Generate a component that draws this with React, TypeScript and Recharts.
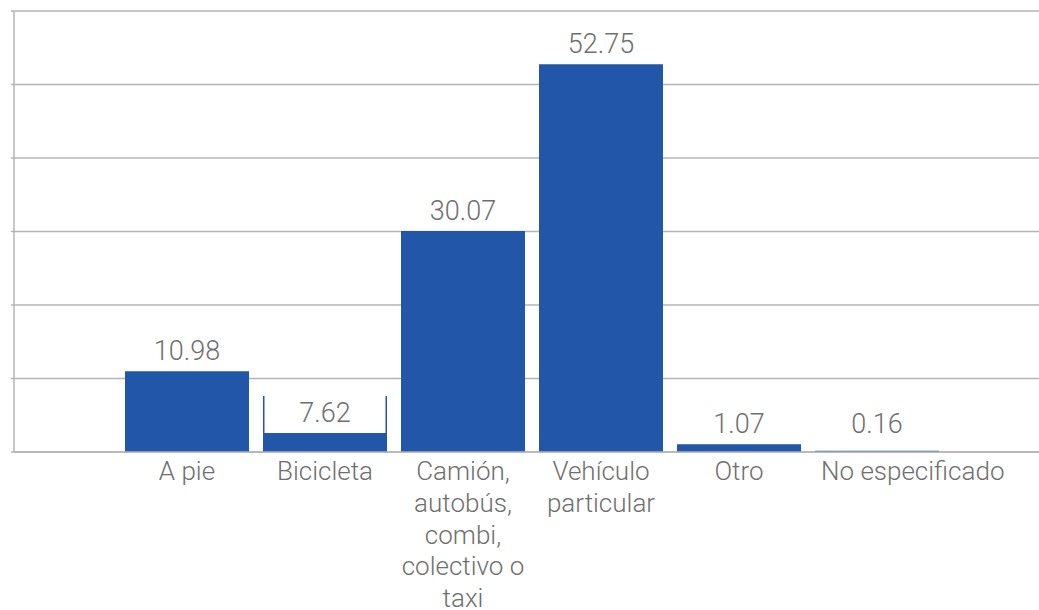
import React from 'react';
import { BarChart, Bar, XAxis, YAxis, CartesianGrid, LabelList } from 'recharts';

const CATEGORIES = [
    'A pie',
    'Bicicleta',
    'Camión,\nautobús,\ncombi,\ncolectivo o\ntaxi',
    'Vehículo\nparticular',
    'Otro',
    'No especificado',
];
const VALUES = [10.98, 7.62, 30.07, 52.75, 1.07, 0.16];
const Y_TICKS = [0, 10, 20, 30, 40, 50, 60];

// in the source the "7.62" label sits on a white box laid over the top of its bar
const BOXED_LABELS = ['Bicicleta'];

const data = CATEGORIES.map((name, i) => ({ name, value: VALUES[i] }));

const BAR_COLOR = '#2256a8';
const TEXT_COLOR = '#6f6f6f';
const GRID_COLOR = '#b4b4b4';
const FONT = 'Roboto, "Liberation Sans", sans-serif';
const PLOT_BOTTOM = 452;

const CategoryTick = ({ x, y, payload }: any) => {
    const lines = String(payload.value).split('\n');
    // long one-line labels run to the right of their bar instead of being centred
    const wide = lines.length === 1 && lines[0].length > 12;
    return (
        <text
            x={wide ? x - 56 : x}
            y={y}
            textAnchor={wide ? 'start' : 'middle'}
            fill={TEXT_COLOR}
            fontFamily={FONT}
            fontWeight={300}
            fontSize={26}
        >
            {lines.map((line, i) => (
                <tspan key={i} x={wide ? x - 56 : x} dy={i === 0 ? 28 : 31.8}>{line}</tspan>
            ))}
        </text>
    );
};

const ValueLabel = (props: any) => {
    const { x, y, width, value, index } = props;
    const cx = x + width / 2;
    const boxed = BOXED_LABELS.includes(CATEGORIES[index]);
    if (boxed) {
        const boxH = 37;
        return (
            <g>
                <rect x={x + 1.5} y={y} width={width - 3} height={boxH} fill="#ffffff" />
                <text x={cx} y={y + boxH - 11} textAnchor="middle" fill={TEXT_COLOR} fontFamily={FONT} fontWeight={300} fontSize={27}>
                    {value.toFixed(2)}
                </text>
            </g>
        );
    }
    const baseline = Math.min(y - 11, PLOT_BOTTOM - 19);
    return (
        <text x={cx} y={baseline} textAnchor="middle" fill={TEXT_COLOR} fontFamily={FONT} fontWeight={300} fontSize={27}>
            {value.toFixed(2)}
        </text>
    );
};

export default function App() {
    return (
        <div style={{ position: 'absolute', left: 0, top: 0, background: '#fff' }}>
            <BarChart width={1039} height={610} data={data} margin={{ top: 11, right: 0, left: 0, bottom: 0 }} barCategoryGap={7}>
                <CartesianGrid vertical={false} stroke={GRID_COLOR} strokeWidth={1.5} />
                <XAxis
                    dataKey="name"
                    height={158}
                    padding={{ left: 104, right: 93 }}
                    axisLine={{ stroke: GRID_COLOR, strokeWidth: 1.5 }}
                    tickLine={false}
                    tickSize={0}
                    tickMargin={0}
                    interval={0}
                    tick={<CategoryTick />}
                />
                <YAxis
                    width={14}
                    domain={[0, 60]}
                    ticks={Y_TICKS}
                    interval={0}
                    axisLine={{ stroke: GRID_COLOR, strokeWidth: 1.5 }}
                    tickLine={{ stroke: GRID_COLOR, strokeWidth: 1.5 }}
                    tickSize={3}
                    tick={() => <g />}
                />
                <Bar dataKey="value" fill={BAR_COLOR} isAnimationActive={false}>
                    <LabelList dataKey="value" content={<ValueLabel />} />
                </Bar>
            </BarChart>
        </div>
    );
}
